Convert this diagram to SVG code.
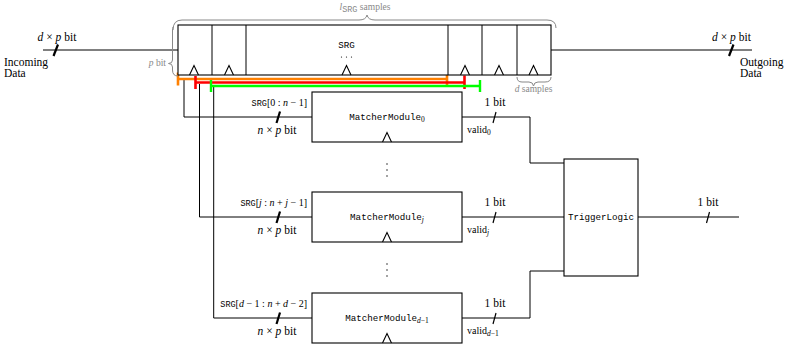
<svg xmlns="http://www.w3.org/2000/svg" width="788" height="344" viewBox="0 0 788 344">
<style>
.ln{fill:none;stroke:#000;stroke-width:1}
.box{fill:#fff;stroke:#000;stroke-width:1.1}
.clk{fill:none;stroke:#000;stroke-width:1.1}
.thk{stroke:#000;stroke-width:2.2}
.thn{stroke:#000;stroke-width:1.2}
.br{fill:none;stroke:#888;stroke-width:1}
.t{font-family:"Liberation Serif","Times New Roman","DejaVu Serif",serif;font-size:11.5px;fill:#000}
.s{font-family:"Liberation Serif","Times New Roman","DejaVu Serif",serif;font-size:10px;fill:#000}
.g{font-family:"Liberation Serif","Times New Roman","DejaVu Serif",serif;font-size:9.5px;fill:#888}
.m{font-family:"Liberation Mono","DejaVu Sans Mono",monospace;font-size:9.2px;fill:#000}
.sm{font-family:"Liberation Mono","DejaVu Sans Mono",monospace;font-size:8.5px}
.i{font-style:italic}
.sub{font-family:"Liberation Serif","Times New Roman","DejaVu Serif",serif;font-size:7.5px}
</style>
<g id="connectors">
<path class="ln" d="M43,50 H178"/>
<path class="ln" d="M551,50 H752"/>
<line class="thk" x1="53.5" y1="56" x2="58" y2="44.5"/>
<line class="thk" x1="729" y1="56" x2="733.5" y2="44.5"/>
<path class="ln" d="M184,80 V117 H312"/>
<path class="ln" d="M199.5,84 V217 H312"/>
<path class="ln" d="M213.7,87 V318 H312"/>
<line class="thk" x1="276.5" y1="123" x2="280" y2="111.5"/>
<line class="thk" x1="276.5" y1="223" x2="280" y2="211.5"/>
<line class="thk" x1="276.5" y1="324" x2="280" y2="312.5"/>
<path class="ln" d="M462,117 H530 V163 H564"/>
<path class="ln" d="M462,217 H564"/>
<path class="ln" d="M462,318 H530 V271 H564"/>
<path class="ln" d="M638,217 H739"/>
<line class="thn" x1="493" y1="123" x2="496" y2="112"/>
<line class="thn" x1="493" y1="223" x2="496" y2="212"/>
<line class="thn" x1="493" y1="324" x2="496" y2="313"/>
<line class="thn" x1="706.5" y1="223" x2="709.5" y2="212"/>
<g stroke="#FF8000" stroke-width="2.6" fill="none">
<path d="M178,79 H447 M178,72.5 V85.5 M447,73 V85.5"/>
</g>
<g stroke="#FF0000" stroke-width="2.6" fill="none">
<path d="M195.5,82.5 H464.5 M195.5,76 V89 M464.5,75.5 V89"/>
</g>
<g stroke="#00FF00" stroke-width="2.4" fill="none">
<path d="M211,86 H480 M211,80 V92 M480,80 V92"/>
</g>
</g>
<g id="srg">
<rect class="box" x="178" y="25" width="373" height="50"/>
<path class="ln" d="M212,25 V75 M246,25 V75 M448,25 V75 M482,25 V75 M517,25 V75"/>
<path class="clk" d="M189.5,75 L194,65.5 L198.5,75 M224.5,75 L229,65.5 L233.5,75 M342,75 L346.5,65.5 L351,75 M460.5,75 L465,65.5 L469.5,75 M494.5,75 L499,65.5 L503.5,75 M529,75 L533.5,65.5 L538,75"/>
<text class="m" x="346.5" y="48" text-anchor="middle" font-size="9.6">SRG</text>
<g fill="#000"><circle cx="341.5" cy="57" r="0.6"/><circle cx="346.5" cy="57" r="0.6"/><circle cx="351.5" cy="57" r="0.6"/></g>
<path class="br" d="M173,30 Q173,20 182,20 L359,20 Q366,20 367,15 Q368,20 375,20 L547,20 Q556,20 556,28"/>
<path class="br" d="M178,76 Q172.5,76 172.5,70 L172.5,67 Q172.5,63.5 168.5,63.5 Q172.5,63.5 172.5,60 L172.5,31 Q172.5,28 173,27"/>
<path class="br" d="M517,77 Q517,82 522,82 L529,82 Q533,82 533.5,86 Q534,82 538,82 L545,82 Q551,82 551,77"/>
<text class="g" x="365" y="10" text-anchor="middle"><tspan class="i">l</tspan><tspan class="sm" font-size="6px" dy="1.5">SRG</tspan><tspan dy="-1.5"> samples</tspan></text>
<text class="g" x="166" y="66" text-anchor="end"><tspan class="i">p</tspan> bit</text>
<text class="g" x="533.5" y="92" text-anchor="middle"><tspan class="i">d</tspan> samples</text>
</g>
<g id="io-labels">
<text class="t" x="57" y="41" text-anchor="middle"><tspan class="i">d</tspan> × <tspan class="i">p</tspan> bit</text>
<text class="t" x="4" y="65.5">Incoming</text>
<text class="t" x="4" y="77">Data</text>
<text class="t" x="731.5" y="41" text-anchor="middle"><tspan class="i">d</tspan> × <tspan class="i">p</tspan> bit</text>
<text class="t" x="740" y="65.5">Outgoing</text>
<text class="t" x="740" y="77">Data</text>
</g>
<g id="matcher0">
<rect class="box" x="312" y="92" width="150" height="50"/>
<path class="clk" d="M382.5,142 L387,132.5 L391.5,142"/>
<text class="m" x="387" y="120" text-anchor="middle">MatcherModule<tspan class="sub" dy="1.5">0</tspan></text>
<text class="s" x="307" y="106" text-anchor="end"><tspan class="sm">SRG</tspan>[0 : <tspan class="i">n</tspan> − 1]</text>
<text class="t" x="277" y="134" text-anchor="middle"><tspan class="i">n</tspan> × <tspan class="i">p</tspan> bit</text>
<text class="t" x="495" y="106" text-anchor="middle">1 bit</text>
<text class="s" x="467" y="133">valid<tspan class="sub" dy="1.5">0</tspan></text>
</g>
<g id="matcherj">
<rect class="box" x="312" y="192" width="150" height="50"/>
<path class="clk" d="M382.5,242 L387,232.5 L391.5,242"/>
<text class="m" x="387" y="220" text-anchor="middle">MatcherModule<tspan class="sub i" dy="1.5">j</tspan></text>
<text class="s" x="307" y="206" text-anchor="end"><tspan class="sm">SRG</tspan>[<tspan class="i">j</tspan> : <tspan class="i">n</tspan> + <tspan class="i">j</tspan> − 1]</text>
<text class="t" x="277" y="234" text-anchor="middle"><tspan class="i">n</tspan> × <tspan class="i">p</tspan> bit</text>
<text class="t" x="495" y="206" text-anchor="middle">1 bit</text>
<text class="s" x="467" y="233">valid<tspan class="sub i" dy="1.5">j</tspan></text>
</g>
<g id="matcherd1">
<rect class="box" x="312" y="293" width="150" height="50"/>
<path class="clk" d="M382.5,343 L387,333.5 L391.5,343"/>
<text class="m" x="387" y="321" text-anchor="middle">MatcherModule<tspan class="sub" dy="1.5"><tspan class="i">d</tspan>−1</tspan></text>
<text class="s" x="307" y="307" text-anchor="end"><tspan class="sm">SRG</tspan>[<tspan class="i">d</tspan> − 1 : <tspan class="i">n</tspan> + <tspan class="i">d</tspan> − 2]</text>
<text class="t" x="277" y="335" text-anchor="middle"><tspan class="i">n</tspan> × <tspan class="i">p</tspan> bit</text>
<text class="t" x="495" y="307" text-anchor="middle">1 bit</text>
<text class="s" x="467" y="334">valid<tspan class="sub" dy="1.5"><tspan class="i">d</tspan>−1</tspan></text>
</g>
<g id="dots">
<g fill="#000"><circle cx="387" cy="164" r="0.7"/><circle cx="387" cy="170" r="0.7"/><circle cx="387" cy="176" r="0.7"/>
<circle cx="387" cy="264" r="0.7"/><circle cx="387" cy="270" r="0.7"/><circle cx="387" cy="276" r="0.7"/></g>
</g>
<g id="trigger">
<rect class="box" x="564" y="159" width="74" height="117"/>
<text class="m" x="601" y="220" text-anchor="middle">TriggerLogic</text>
<text class="t" x="708" y="206" text-anchor="middle">1 bit</text>
</g>
</svg>
